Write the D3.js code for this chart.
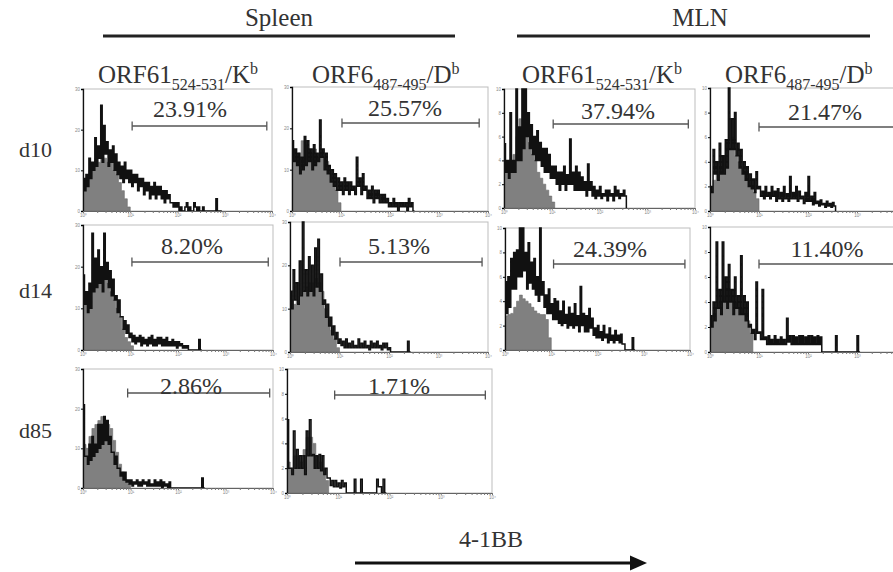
<!DOCTYPE html>
<html><head><meta charset="utf-8">
<script src="https://cdn.jsdelivr.net/npm/d3@7"></script>
<style>body{margin:0;background:#fff}svg{display:block}</style>
</head><body><svg id="c" width="893" height="572"></svg>
<script>
// ---------------- data ----------------
const tissues = ["Spleen", "MLN"];
const epitopeNames = ["ORF61", "ORF6"];
const epitopeSubs = ["524-531", "487-495"];
const epitopeMHC = ["K", "D"];
const days = ["d10", "d14", "d85"];
const axisLabel = "4-1BB";
const percentLabels = ["23.91%", "25.57%", "37.94%", "21.47%", "8.20%", "5.13%", "24.39%", "11.40%", "2.86%", "1.71%"];
const yMaxes = [30, 30, 10, 10, 30, 30, 10, 10, 30, 10];
const gateStart = [1.04, 1.02, 1.03, 1.0, 1.03, 1.01, 1.05, 1.0, 0.94, 0.93];
const gateEnd = [3.89, 3.82, 3.86, 3.85, 3.9, 3.88, 3.89, 3.85, 3.93, 3.87];
const xTickLabels = ["10\u2070", "10\u00B9", "10\u00B2", "10\u00B3", "10\u2074"];
const sampleBinsPerDecade = 32;
const controlBinsPerDecade = 16;

// sample (black outline) histograms, counts per 1/32 decade
const sample1 = [8,5,9,6, 13,8,12,10, 18,11,16,13,26,12,21,14, 17,11,15,12,16,10,14,9, 12,8,11,7,12,8,10,7, 10,6,9,7,9,5,8,6, 8,4,7,5,7,3,6,4,7,3,6,4, 6,3,5,2,5,3,4,2, 2,1,2,1, 2,0,1,0,0,1,2,0,1,0,0,2,1,0,1,0,0,1,0,0,0,0,0,0,0,0,3,0,0,0];
const sample2 = [17,12,15,11, 14,9,13,10, 18,11,17,12, 15,10,16,11,14,12, 22,13, 15,10,14,9, 11,7,10,6,9,5, 8,5,7,4,8,5,7,4,7,5,6,4,13,6, 8,4,9,5, 6,3,5,3,6,2,5,3,5,2,4,2,4,2,3,1, 2,1,3,1,2,0,2,1,2,1,2,0,3,1,2,0];
const sample3 = [5.4,3, 4,2.5, 8,3, 4,3, 10,4, 6.8,4, 10,5,10,6, 8,5,7,4.5,6,4,6.5,4, 5.5,3.5,5,3,5,3, 4.5,2.5,3.5,2.5, 3.5,2,3,1.5,3,2,3.5,1.5,2.8,2, 5.8,2, 3,1.5,3.5,1.5,3,1.5, 2.6,1.5,2.2,1,3.7,1.5,2.2,1, 1.8,0.8,1.5,1,1.8,0.8,1.2,1,1.5,0.6,1.5,1,1.2,0.6,1.8,1,1.5,0.8,1.2,1,1.5,1];
const sample4 = [2,1.5, 5,3,4,2.5,5.5,3,4.5,3,5.8,3.5, 10,5, 7.5,5,8,4.5, 5.5,3.5,5,3,4,2.5, 3.6,2,3,1.8,2.6,1.5,3.2,1.8, 2,1.2,1.6,1,2,1.2,1.5,1,2,1.2,1.6,0.8,1.8,1,1.5,0.8,2,1,1.4,0.8, 2.8,1, 1.5,1,2,0.8,1.6,1,1.2,0.6,1.5,0.8, 2.8,0.8, 1.2,0.5,1.5,0.6,0.8,0.4,0.9,0.5,0.6,0.3,0.8,0.4,0.6,0.3,0.7,0.4];
const sample5 = [18,11, 14,9,16,10, 28,14,22,15, 24,16,20,14, 28,17, 21,15,19,13,17,12, 13,9,12,8, 8,5,7,4,6,3, 4,2,3.5,1.5,3,2, 3.5,1,3,1.5,2.5,1,3,1.5,3.5,1,2.5,1,3,1.5,3,1,2.5,1,3,1,2,1,2.5,1,2,0.5,2,1,1.5,0.5,1,0.5,1,0, 0,0,0,0,0,0, 2.5,0];
const sample6 = [14,10, 19,12,16,11,21,13, 30,14, 19,13,22,14,20,13,24,15, 26,14, 18,11,12,8, 11,6,8,4,6,3,4.5,2, 3,1.5,2.5,1,3,1,2,1,2.5,1,1.5,1,3,1,2,1,2.5,1,1.5,0.5,2.5,1,2,1,2.5,1,1.5,0.5,2,1,2,0.5,1,0, 0,0,0,0,0,0,0,0,0,0, 2.5,0];
const sample7 = [5.6,3, 6,3.5,7.5,5,8,5,8.2,6, 10,6,10,6.5, 8,5,8.8,5.5,7.2,5,7.5,4.5, 6,4, 10,4.5, 5.6,3.5,4.5,3,5,3,3.8,2.5,4.2,2.5, 4,2.2,3.2,2,4,2.2,2.9,1.8,3.5,2,3,1.8,3.8,2,2.8,1.5, 5.2,2, 3,1.5,2.8,1.5,3.4,1.8,2.6,1.2, 1.8,1,2,1,1.5,0.8,2,1,1.3,0.6,1.8,0.8,1.2,0.6,1.6,0.8,1.2,0.6,1.3,0.5,0.5,0, 0,0,0,0, 1,0];
const sample8 = [2.9,2, 4,2.5, 8.8,3.5, 5,3, 8.8,4, 6,3.5,7,4,5,3,6,3.5,4.5,3, 7.7,3, 4.5,2.5,4,2, 2.2,1.5,1.8,1, 5.6,1.5, 1.6,1, 5,1, 1.2,0.6,1.3,0.6,1,0.6,1.3,0.6,1,0.6,1.2,0.6,1,0.6, 2.7,0.8, 1.3,0.6,1.3,0.6,1.2,0.6,1.3,0.6,1.3,0.6,1.2,0.6,1.3,0.6,1.3,0.6,1.2,0.6,1.3,0.6,1.2,0, 0,0,0,0,0,0,0,0, 1.3,0, 0,0,0,0,0,0,0,0,0,0,0,0, 1.3,0];
const sample9 = [21,8, 8,6, 11,7,13,8, 11,9,16,10, 16,11,18,12,17,11,13,9, 9,6,8,5, 5,3,4,2,4,1.5, 2,1,2,0.5,1.5,1,2,0.5,1.5,0.5,2,1,1.5,0.5,2,0.5,1,0.5,2,0.5,1.5,0.5,2,0,1.5,0.5,1,0,1.5,0, 0,0,0,0,0,0,0,0,0,0,0,0,0,0,0,0,0,0,0,0, 2.5,0];
const sample10 = [5.9,2, 2,1.5, 5,2, 3.5,2,3,2, 3,1.5, 5,3,5.9,3, 3.1,2,3,2,3.1,1.8,3,1.5,2,1.2, 1.2,0.6,1,0.5,1,0.5,0.8,0.4,1,0.5,0.8,0, 0,0,0,0, 1.1,0, 0,0, 1.1,0, 0,0,0,0,0,0,0,0, 1.1,0.5,0.5,0,1.1,0];

// control (grey fill) histograms, counts per 1/16 decade
const control1 = [6, 8, 10, 11, 13, 12, 15, 13, 12, 13, 10, 9, 7, 5, 3, 1];
const control2 = [15, 13, 14, 17, 16, 15, 14, 15, 13, 14, 13, 12, 9, 7, 5, 2];
const control3 = [3.5, 3, 3.8, 4.5, 6, 7.5, 7, 6, 5.5, 4.5, 4, 3, 2.5, 2, 1.5, 1, 0.5];
const control4 = [1.5, 2.5, 3, 3.5, 4.5, 5.5, 5, 6, 4.5, 4, 3.5, 3, 2.5, 2, 1.5, 1];
const control5 = [13, 12, 14, 15, 16, 17, 18, 17, 16, 14, 12, 10, 8, 5, 3, 2, 1];
const control6 = [12, 11, 12, 13, 14, 15, 16, 16, 17, 16, 14, 10, 8, 5, 3, 1];
const control7 = [2.8, 2.9, 3, 3.5, 4, 4.5, 4.2, 4, 3.8, 3.5, 3.2, 3, 2.9, 2.9, 2.5, 1];
const control8 = [2.5, 3, 3.5, 4, 4.5, 5, 5, 4.5, 4, 3.5, 3.5, 3, 2.5, 1.5];
const control9 = [11, 10, 13, 15, 16, 17, 18, 17, 16, 15, 12, 9, 6, 4, 2, 1];
const control10 = [2.5, 2, 3, 3, 2.5, 3.5, 4.5, 4.5, 4, 3, 2.5, 2, 1];

const samples = [sample1, sample2, sample3, sample4, sample5, sample6, sample7, sample8, sample9, sample10];
const controls = [control1, control2, control3, control4, control5, control6, control7, control8, control9, control10];

// ---------------- layout ----------------
const W = 893;
const boxes = [
  {x0: 83, x1: 272, y0: 89, y1: 211, tx: 190, ty: 117, gy: 126},
  {x0: 292, x1: 488, y0: 87, y1: 211, tx: 405, ty: 116, gy: 123},
  {x0: 504, x1: 695, y0: 89, y1: 208, tx: 618, ty: 119, gy: 124},
  {x0: 710, x1: 906, y0: 88, y1: 211, tx: 825, ty: 120, gy: 127},
  {x0: 83, x1: 273, y0: 225, y1: 350, tx: 192, ty: 254, gy: 262},
  {x0: 290, x1: 488, y0: 222, y1: 352, tx: 399, ty: 254, gy: 262},
  {x0: 505, x1: 690, y0: 228, y1: 350, tx: 610, ty: 257, gy: 264},
  {x0: 710, x1: 906, y0: 227, y1: 352, tx: 827, ty: 257, gy: 264},
  {x0: 83, x1: 273, y0: 369, y1: 488, tx: 191, ty: 394, gy: 393},
  {x0: 287, x1: 492, y0: 369, y1: 493, tx: 399, ty: 394, gy: 395}
];
const serif = "Liberation Serif, Times New Roman, serif";
const svg = d3.select("#c");
const defs = svg.append("defs");

boxes.forEach((b, i) => {
  const x = d3.scaleLog().domain([1, 1e4]).range([b.x0, b.x1]);
  const y = d3.scaleLinear().domain([0, yMaxes[i]]).range([b.y1, b.y0]);
  const g = svg.append("g");
  defs.append("clipPath").attr("id", "cp" + i).append("rect")
    .attr("x", b.x0).attr("y", b.y0 - 1).attr("width", b.x1 - b.x0).attr("height", b.y1 - b.y0 + 1);

  g.append("rect").attr("x", b.x0).attr("y", b.y0).attr("width", b.x1 - b.x0).attr("height", b.y1 - b.y0)
    .attr("fill", "#fff").attr("stroke", "#bdbdbd").attr("stroke-width", 1);

  const pts = (vals, per) => {
    const edge = k => Math.pow(10, k / per);
    const p = [{e: edge(0), v: 0}];
    vals.forEach((v, k) => p.push({e: edge(k), v: Math.min(v, yMaxes[i])}));
    p.push({e: edge(vals.length), v: 0});
    return p;
  };
  const area = d3.area().curve(d3.curveStepAfter).x(d => x(d.e)).y0(y(0)).y1(d => y(d.v));
  const line = d3.line().curve(d3.curveStepAfter).x(d => x(d.e)).y(d => y(d.v));
  const pg = g.append("g").attr("clip-path", `url(#cp${i})`);
  pg.append("path").attr("d", area(pts(controls[i], controlBinsPerDecade)))
    .attr("fill", "#808080").attr("stroke", "#6a6a6a").attr("stroke-width", 0.6);
  pg.append("path").attr("d", line(pts(samples[i], sampleBinsPerDecade))).attr("fill", "none").attr("stroke", "#111")
    .attr("stroke-width", 1.5).attr("stroke-linejoin", "miter");

  // axes
  const yTicks = d3.range(0, yMaxes[i] + 0.01, yMaxes[i] === 30 ? 10 : 2);
  const ya = g.append("g").attr("transform", `translate(${b.x0},0)`)
    .call(d3.axisLeft(y).tickValues(yTicks).tickSize(2).tickPadding(1));
  ya.select(".domain").attr("stroke", "#111").attr("stroke-width", 1.3);
  ya.selectAll("text").attr("font-size", 4.5).attr("fill", "#888").attr("font-family", "Arial");
  const xa = g.append("g").attr("transform", `translate(0,${b.y1})`)
    .call(d3.axisBottom(x).tickValues(x.ticks()).tickSize(2).tickPadding(1)
      .tickFormat(d => {
        const l = Math.log10(d);
        if (Math.abs(l - Math.round(l)) > 1e-6 || x(d) > W - 6) return "";
        return xTickLabels[Math.round(l)];
      }));
  xa.select(".domain").attr("stroke", "#444").attr("stroke-width", 0.8);
  xa.selectAll("line").attr("stroke", "#777");
  xa.selectAll("text").attr("font-size", 4.5).attr("fill", "#888").attr("font-family", "Arial");

  // gate
  const gx0 = x(Math.pow(10, gateStart[i])), gx1 = x(Math.pow(10, gateEnd[i]));
  const gg = g.append("g").attr("stroke", "#555").attr("stroke-width", 1.3);
  gg.append("line").attr("x1", gx0).attr("x2", gx1).attr("y1", b.gy).attr("y2", b.gy);
  gg.append("line").attr("x1", gx0).attr("x2", gx0).attr("y1", b.gy - 4.5).attr("y2", b.gy + 4.5);
  gg.append("line").attr("x1", gx1).attr("x2", gx1).attr("y1", b.gy - 4.5).attr("y2", b.gy + 4.5);
  g.append("text").attr("x", b.tx).attr("y", b.ty).attr("text-anchor", "middle")
    .style("font-family", serif).attr("font-size", 24).attr("fill", "#333").text(percentLabels[i]);
});

// column headers
const hdr = [{t: tissues[0], cx: 279, l0: 103, l1: 455}, {t: tissues[1], cx: 700, l0: 517, l1: 870}];
hdr.forEach(h => {
  svg.append("text").attr("x", h.cx).attr("y", 26).attr("text-anchor", "middle")
    .style("font-family", serif).attr("font-size", 25).attr("fill", "#333").text(h.t);
  svg.append("line").attr("x1", h.l0).attr("x2", h.l1).attr("y1", 36).attr("y2", 36)
    .attr("stroke", "#222").attr("stroke-width", 3);
});
const subX = [98, 312, 522, 725];
subX.forEach((sx, j) => {
  const e = j % 2;
  const t = svg.append("text").attr("x", sx).attr("y", 83).style("font-family", serif)
    .attr("font-size", 25).attr("fill", "#333");
  t.append("tspan").text(epitopeNames[e]);
  t.append("tspan").attr("font-size", 16).attr("dy", 7).text(epitopeSubs[e]);
  t.append("tspan").attr("dy", -7).text("/" + epitopeMHC[e]);
  t.append("tspan").attr("font-size", 16).attr("dy", -9).text("b");
});
// row labels
const rowY = [157, 298, 438];
days.forEach((d, k) => {
  svg.append("text").attr("x", 19).attr("y", rowY[k]).style("font-family", serif)
    .attr("font-size", 22).attr("fill", "#333").text(d);
});
// x label + arrow
svg.append("text").attr("x", 491).attr("y", 547).attr("text-anchor", "middle")
  .style("font-family", serif).attr("font-size", 24).attr("fill", "#333").text(axisLabel);
svg.append("line").attr("x1", 355).attr("x2", 632).attr("y1", 563).attr("y2", 563)
  .attr("stroke", "#111").attr("stroke-width", 3);
svg.append("path").attr("d", "M630,555.5 L647,563 L630,570.5 Z").attr("fill", "#111");
</script></body></html>
